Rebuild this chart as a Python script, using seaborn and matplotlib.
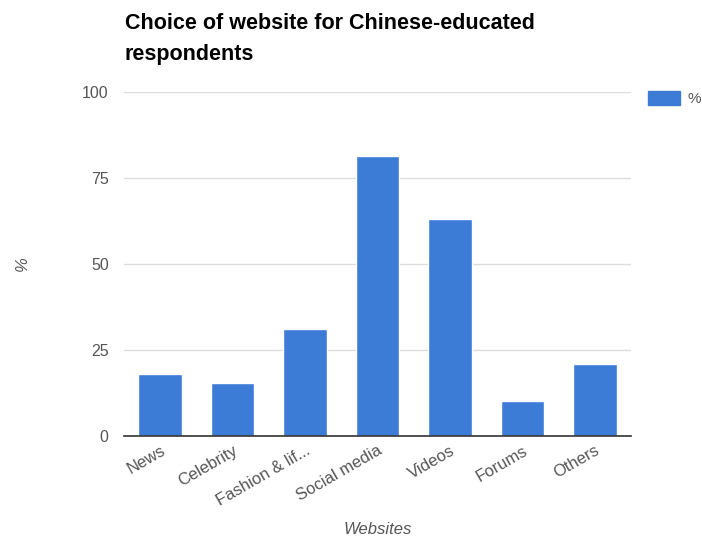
import matplotlib
matplotlib.use("Agg")
import matplotlib.pyplot as plt
import seaborn as sns
import pandas as pd
from matplotlib.patches import Patch

categories = ["News", "Celebrity", "Fashion & lif...", "Social media", "Videos", "Forums", "Others"]
values = [18.1, 15.5, 31.1, 81.4, 63.0, 10.3, 20.8]
yticks = [0, 25, 50, 75, 100]

sns.set_theme(style="white")
plt.rcParams['font.family'] = ['Liberation Sans', 'DejaVu Sans']

df = pd.DataFrame({"Websites": categories, "%": values})

fig = plt.figure(figsize=(7.02, 5.44), dpi=100)
ax = fig.add_axes([124/702, 1-436/544, (631-124)/702, (436-92)/544])

color = "#3d7cd6"
gray = "#555555"
sns.barplot(data=df, x="Websites", y="%", color=color, width=0.6, ax=ax, saturation=1)

ax.set_ylim(0, 100)
ax.set_yticks(yticks)
ax.set_yticklabels([str(t) for t in yticks], color=gray, fontsize=11.5)
ax.yaxis.grid(True, color="#dcdcdc", linewidth=1)
ax.set_axisbelow(True)
for s in ["top", "right", "left"]:
    ax.spines[s].set_visible(False)
ax.spines["bottom"].set_color("#333333")
ax.spines["bottom"].set_linewidth(1.2)
ax.tick_params(axis="y", length=0, pad=11)
ax.set_xlim(-0.5, len(categories) - 0.5)

ax.set_xticks(range(len(categories)))
ax.set_xticklabels(categories, rotation=30, ha="right", rotation_mode="anchor",
                   color=gray, fontsize=12)
ax.tick_params(axis="x", length=0, pad=5)

ax.set_xlabel("Websites", fontstyle="italic", color=gray, fontsize=12)
ax.xaxis.set_label_coords(0.5, -(522-436)/344)
ax.set_ylabel("%", fontstyle="italic", color=gray, fontsize=12)
ax.yaxis.set_label_coords(-(124-30)/507, 0.5)

fig.text(125/702, 1-39/544, "Choice of website for Chinese-educated\nrespondents",
         ha="left", va="center", fontsize=15.5, fontweight="bold", color="#000000",
         linespacing=1.65)

handles = [Patch(facecolor=color, edgecolor=color)]
fig.legend(handles, ["%"], loc="upper left", bbox_to_anchor=(648/702, 1-91/544),
           frameon=False, fontsize=11, handlelength=2.1, handleheight=1.05,
           handletextpad=0.5, borderpad=0, borderaxespad=0,
           labelcolor=gray)

fig.savefig("out.png", dpi=100)
